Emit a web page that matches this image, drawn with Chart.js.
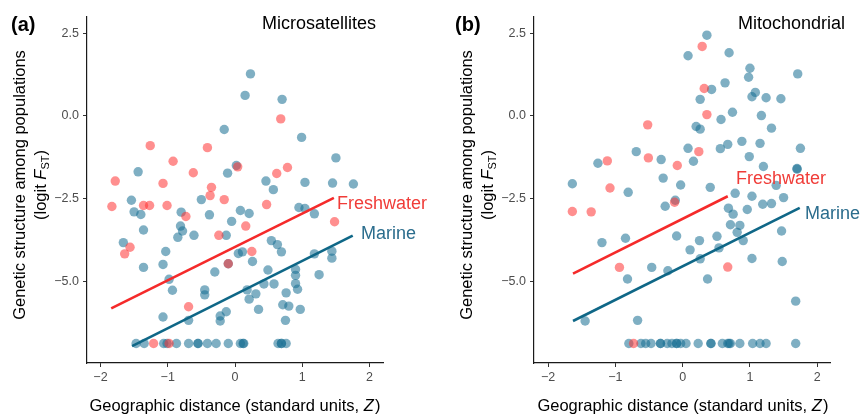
<!DOCTYPE html>
<html>
<head>
<meta charset="utf-8">
<script src="https://cdn.jsdelivr.net/npm/chart.js@4"></script>
<style>
  body { margin: 0; background: #fff; font-family: "Liberation Sans", Arial, sans-serif; }
  #wrap { position: relative; width: 861px; height: 414px; overflow: hidden; }
  .panel { position: absolute; top: 0; height: 414px; }
  .txt { position: absolute; white-space: nowrap; color: #000; }
  .tag { font-size: 20px; font-weight: bold; line-height: 22px; }
  .title { font-size: 18px; line-height: 20px; }
  .lab { font-size: 18px; line-height: 20px; }
  .xtitle { font-size: 16.5px; line-height: 20px; width: 400px; text-align: center; }
  .ytitle { font-size: 16.5px; line-height: 21px; width: 340px; height: 42px; text-align: center; transform: rotate(-90deg); }
  .ytitle sub { font-size: 11px; vertical-align: -3px; }
</style>
</head>
<body>
<div id="wrap">
  <div class="panel" style="left:0;width:430px"><canvas id="msChart" width="430" height="414"></canvas></div>
  <div class="panel" style="left:430px;width:431px"><canvas id="mtChart" width="431" height="414"></canvas></div>

  <div class="txt tag" style="left:11px;top:13px">(a)</div>
  <div class="txt tag" style="left:455px;top:13px">(b)</div>
  <div class="txt title" style="left:262px;top:13px">Microsatellites</div>
  <div class="txt title" style="left:738px;top:13px">Mitochondrial</div>

  <div class="txt lab" style="left:337px;top:193px;color:#f03c38">Freshwater</div>
  <div class="txt lab" style="left:361px;top:223px;color:#2b6d8d">Marine</div>
  <div class="txt lab" style="left:736px;top:168px;color:#f03c38">Freshwater</div>
  <div class="txt lab" style="left:805px;top:203px;color:#2b6d8d">Marine</div>

  <div class="txt ytitle" style="left:-140px;top:164px">Genetic structure among populations<br>(logit <i>F</i><sub>ST</sub>)</div>
  <div class="txt ytitle" style="left:307px;top:164px">Genetic structure among populations<br>(logit <i>F</i><sub>ST</sub>)</div>
  <div class="txt xtitle" style="left:35px;top:395px">Geographic distance (standard units, <i>Z</i>&#8202;)</div>
  <div class="txt xtitle" style="left:483px;top:395px">Geographic distance (standard units, <i>Z</i>&#8202;)</div>
</div>

<script>
// ── Data ─────────────────────────────────────────────────────────────────────
// (a) Microsatellites
const msMarineX = [0.23, 0.15, 0.70, -0.16, 0.99, 1.50, 0.02, -0.11, -1.44, 0.46, 0.57, 1.04, 1.45, 1.76, -1.54, -0.50,
  -1.50, -1.40, -0.80, -0.38, 0.08, 0.21, 0.95, 1.04, 1.18, -0.05, -0.81, -0.78, -1.36, -0.85, -0.61, -0.13,
  -1.66, -1.03, 0.05, 0.11, 0.54, 0.63, 0.69, 0.26, 1.18, 1.44, 1.44, -1.36, -1.07, -0.30, 0.49, 0.90, 0.90, 1.25,
  -0.98, -0.93, -0.45, -0.45, 0.18, 0.31, 0.21, 0.43, 0.58, 0.76, 0.90, 0.93, 0.35, 0.71, 0.80, 0.97, 0.75,
  -1.07, -0.69, -0.22, -0.22, -0.13, -0.10,
  -1.47, -1.35, -1.06, -1.01, -0.87, -0.69, -0.55, -0.55, -0.41, -0.28, -0.10, 0.08, 0.12, 0.13, 0.64, 0.69, 0.69, 0.76];
const msMarineY = [1.27, 0.62, 0.50, -0.41, -0.65, -1.27, -1.50, -1.73, -1.69, -1.97, -2.23, -2.01, -2.03, -2.06, -2.55, -2.53,
  -2.90, -2.98, -2.91, -2.99, -2.86, -2.95, -2.77, -2.80, -2.96, -3.19, -3.33, -3.48, -3.45, -3.67, -3.61, -3.61,
  -3.83, -4.10, -4.16, -4.11, -3.77, -3.89, -4.11, -4.40, -4.17, -4.09, -4.30, -4.58, -4.49, -4.72, -4.66, -4.64, -4.82, -4.80,
  -4.94, -5.27, -5.26, -5.41, -5.26, -5.38, -5.54, -5.08, -5.08, -5.35, -5.07, -5.24, -5.85, -5.71, -5.75, -5.85, -6.18,
  -6.08, -6.18, -6.05, -6.20, -5.92, -4.47,
  -6.88, -6.88, -6.88, -6.88, -6.88, -6.88, -6.88, -6.88, -6.88, -6.88, -6.88, -6.88, -6.88, -6.88, -6.88, -6.88, -6.88, -6.88];
const msFreshX = [0.68, -1.26, -0.41, -0.92, 0.04, 0.78, -0.62, 0.62, -1.78, -1.07, -0.35, -0.37, -0.16,
  -1.83, -1.36, -1.27, -1.01, 0.47, -0.73, 0.16, 1.48, -0.24, -1.56, -1.64, 0.25, -0.10, -0.69, -1.21, -0.98];
const msFreshY = [-0.09, -0.90, -0.96, -1.37, -1.54, -1.56, -1.72, -1.74, -1.97, -2.04, -2.16, -2.41, -2.53,
  -2.74, -2.71, -2.71, -2.71, -2.68, -3.04, -3.33, -3.20, -3.61, -3.97, -4.17, -4.10, -4.47, -5.77, -6.88, -6.88];
// fitted lines (end points)
const msMarineLineX = [-1.53, 1.75];
const msMarineLineY = [-6.96, -3.62];
const msFreshLineX = [-1.84, 1.47];
const msFreshLineY = [-5.82, -2.48];

// (b) Mitochondrial
const mtMarineX = [0.36, 0.08, 0.69, 1.00, 0.98, 1.71, 0.63, 0.43, 1.08, 1.03, 1.24, 1.46, 0.26, 0.74, 1.17, 0.57,
  0.20, 0.26, 1.32, 0.88, 1.15, 0.67, 0.56, 0.08, 1.75, -0.69, 0.99, -1.26, -0.32, 0.16, 1.20, 1.70, 1.70,
  -0.29, -1.64, -0.03, 0.41, 1.39, -0.81, 0.78, 1.03, -0.11, 1.50, -0.26, 0.68, 0.75, 0.96, 1.19, 1.32,
  0.71, 0.85, 0.81, 0.90, 1.47, -1.20, -0.85, -0.09, 0.51, 0.25, 0.54, 0.11, 0.26, 1.03, 1.48,
  -0.46, -0.22, -0.82, 0.37, 1.68, -1.45, -0.67,
  -0.80, -0.62, -0.55, -0.47, -0.33, -0.33, -0.23, -0.16, -0.09, -0.09, -0.03, 0.05, 0.23, 0.42, 0.42, 0.59, 0.67, 0.69, 0.71, 0.85, 1.04, 1.15, 1.24, 1.68];
const mtMarineY = [2.44, 1.82, 1.91, 1.44, 1.17, 1.27, 1.00, 0.80, 0.71, 0.58, 0.55, 0.52, 0.50, 0.11, 0.01, -0.11,
  -0.32, -0.40, -0.37, -0.77, -0.83, -0.86, -0.99, -0.98, -0.98, -1.08, -1.23, -1.43, -1.32, -1.37, -1.53, -1.59, -1.61,
  -1.88, -2.05, -2.09, -2.16, -2.10, -2.31, -2.34, -2.43, -2.55, -2.47, -2.73, -2.79, -2.97, -2.83, -2.67, -2.65,
  -3.29, -3.31, -3.52, -3.77, -3.48, -3.83, -3.70, -3.63, -3.64, -3.77, -3.99, -4.05, -4.32, -4.31, -4.40,
  -4.58, -4.68, -4.93, -4.93, -5.60, -6.20, -6.18,
  -6.88, -6.88, -6.88, -6.88, -6.88, -6.88, -6.88, -6.88, -6.88, -6.88, -6.88, -6.88, -6.88, -6.88, -6.88, -6.88, -6.88, -6.88, -6.88, -6.88, -6.88, -6.88, -6.88, -6.88];
const mtFreshX = [0.29, 0.32, 0.36, -0.52, 0.24, -0.51, -1.12, -0.08, -1.08, -1.64, -1.36, -0.12, -0.94, 0.67, -0.73];
const mtFreshY = [2.10, 0.83, 0.04, -0.27, -1.08, -1.27, -1.36, -1.50, -2.18, -2.89, -2.90, -2.61, -4.58, -4.57, -6.88];
const mtMarineLineX = [-1.63, 1.74];
const mtMarineLineY = [-6.20, -2.78];
const mtFreshLineX = [-1.63, 0.67];
const mtFreshLineY = [-4.77, -2.43];

// tick values
const xTicks = [-2, -1, 0, 1, 2];
const yTicks = [-5, -2.5, 0, 2.5];

// ── Styling ──────────────────────────────────────────────────────────────────
const MARINE_PT = "rgba(22,110,145,0.55)";
const FRESH_PT = "rgba(255,51,51,0.55)";
const MARINE_LN = "#0f6787";
const FRESH_LN = "#f52a2a";
const TICK_FONT = { family: "'Liberation Sans', Arial, sans-serif", size: 12.5 };

const pts = (xs, ys) => xs.map((x, i) => ({ x, y: ys[i] }));
const minus = s => String(s).replace("-", "\u2212");

function makePanel(id, o) {
  return new Chart(document.getElementById(id), {
    type: "scatter",
    data: {
      datasets: [
        { type: "line", data: pts(o.fLineX, o.fLineY), borderColor: FRESH_LN, borderWidth: 2.6, pointRadius: 0, fill: false, order: 0 },
        { type: "line", data: pts(o.mLineX, o.mLineY), borderColor: MARINE_LN, borderWidth: 2.6, pointRadius: 0, fill: false, order: 0 },
        { data: pts(o.fX, o.fY), backgroundColor: FRESH_PT, borderWidth: 0, pointRadius: 4.7, order: 1 },
        { data: pts(o.mX, o.mY), backgroundColor: MARINE_PT, borderWidth: 0, pointRadius: 4.7, order: 2 },
      ]
    },
    options: {
      responsive: false,
      animation: false,
      layout: { padding: { left: 0, right: o.padRight, top: 17, bottom: 0 } },
      plugins: { legend: { display: false }, tooltip: { enabled: false } },
      scales: {
        x: {
          type: "linear", min: o.xMin, max: o.xMax,
          afterBuildTicks: s => { s.ticks = xTicks.map(v => ({ value: v })); },
          afterFit: s => { s.height = 51; },
          border: { display: true, color: "#1a1a1a", width: 1.2 },
          grid: { display: true, drawOnChartArea: false, drawTicks: true, tickLength: 4, color: "#333" },
          ticks: { color: "#4d4d4d", font: TICK_FONT, padding: 3, callback: v => minus(v) },
        },
        y: {
          type: "linear", min: -7.47, max: 2.99,
          afterBuildTicks: s => { s.ticks = yTicks.map(v => ({ value: v })); },
          afterFit: s => { s.width = o.axisLeft; },
          border: { display: true, color: "#1a1a1a", width: 1.2 },
          grid: { display: true, drawOnChartArea: false, drawTicks: true, tickLength: 4, color: "#333" },
          ticks: { color: "#4d4d4d", font: TICK_FONT, padding: 4, callback: v => minus(v.toFixed(1)) },
        }
      }
    }
  });
}

makePanel("msChart", {
  mX: msMarineX, mY: msMarineY, fX: msFreshX, fY: msFreshY,
  mLineX: msMarineLineX, mLineY: msMarineLineY, fLineX: msFreshLineX, fLineY: msFreshLineY,
  xMin: -2.2, xMax: 2.2, axisLeft: 87, padRight: 47
});
makePanel("mtChart", {
  mX: mtMarineX, mY: mtMarineY, fX: mtFreshX, fY: mtFreshY,
  mLineX: mtMarineLineX, mLineY: mtMarineLineY, fLineX: mtFreshLineX, fLineY: mtFreshLineY,
  xMin: -2.21, xMax: 2.19, axisLeft: 104, padRight: 31
});
</script>
</body>
</html>
